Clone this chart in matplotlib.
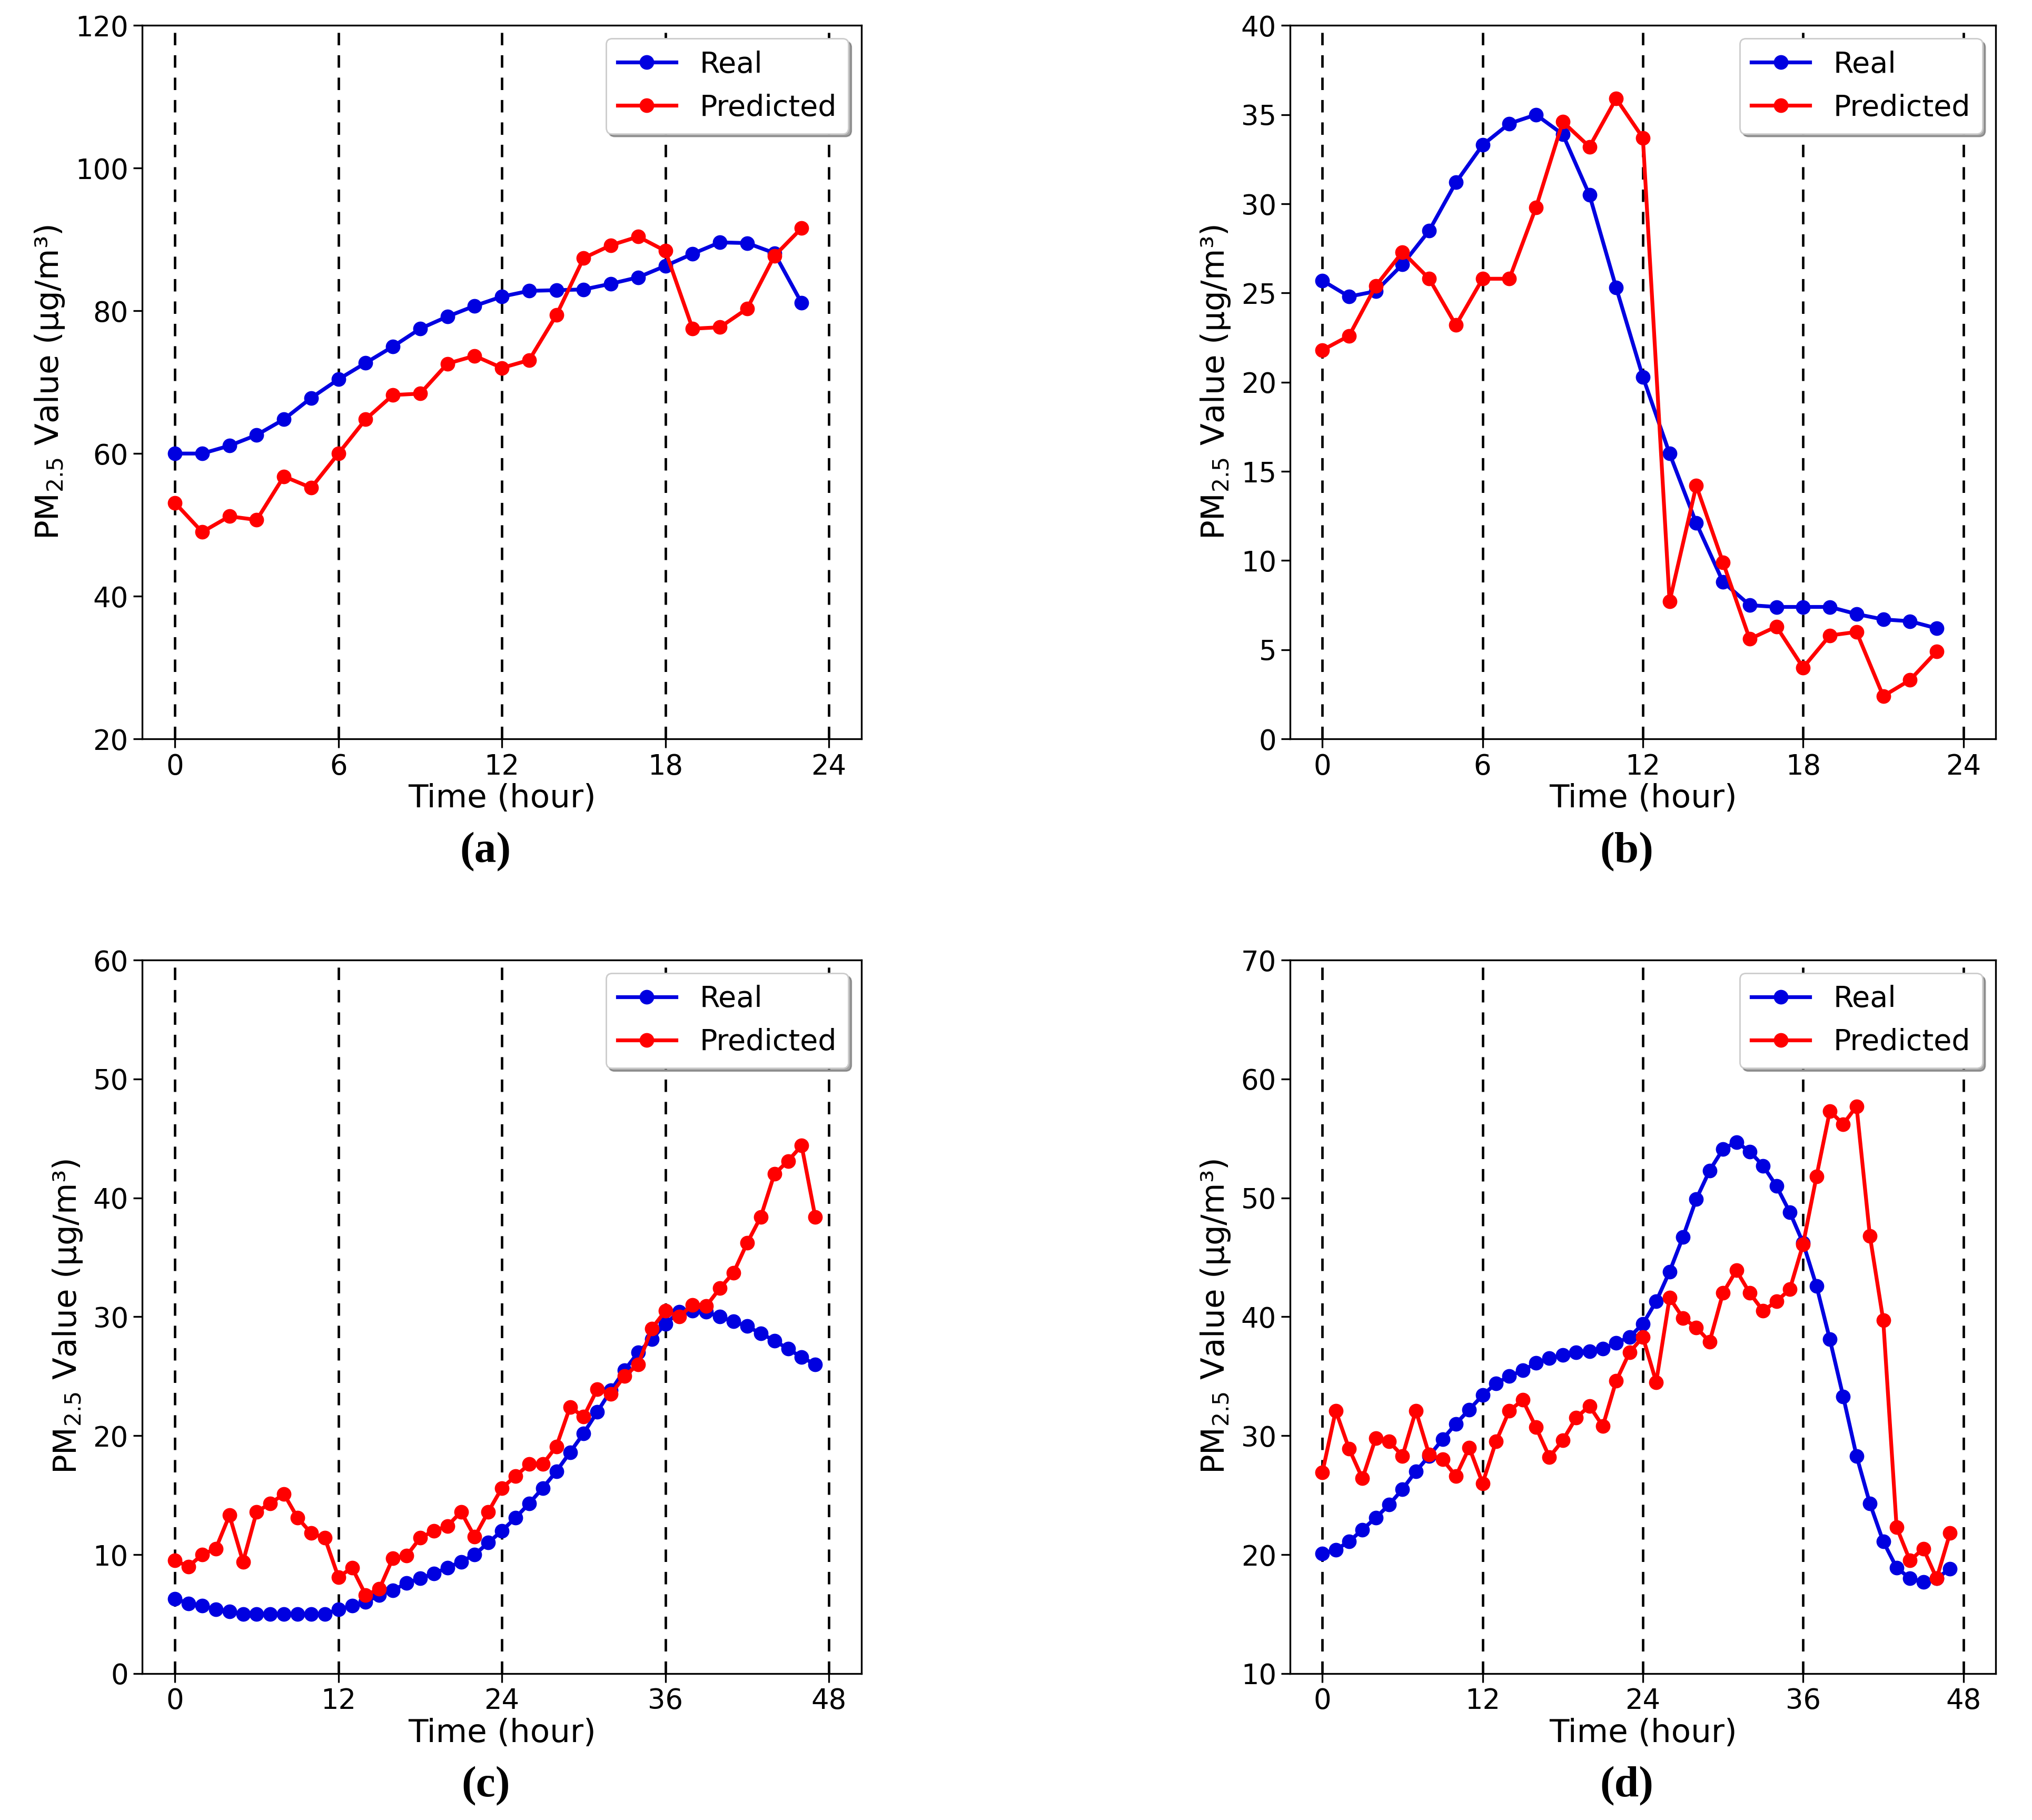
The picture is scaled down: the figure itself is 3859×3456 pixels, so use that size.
import matplotlib
matplotlib.use("Agg")
import matplotlib.pyplot as plt
import numpy as np

# panel (a): 24 hours
real_a = [60.0, 60.0, 61.1, 62.6, 64.8, 67.8, 70.4, 72.7, 75.0, 77.5, 79.2, 80.7,
          82.0, 82.8, 82.9, 83.0, 83.8, 84.7, 86.3, 88.0, 89.6, 89.5, 88.1, 81.1]
pred_a = [53.1, 49.0, 51.2, 50.7, 56.8, 55.2, 60.0, 64.8, 68.2, 68.4, 72.6, 73.7,
          72.0, 73.1, 79.4, 87.4, 89.2, 90.4, 88.4, 77.5, 77.7, 80.3, 87.7, 91.6]

# panel (b): 24 hours
real_b = [25.7, 24.8, 25.1, 26.6, 28.5, 31.2, 33.3, 34.5, 35.0, 33.9, 30.5, 25.3,
          20.3, 16.0, 12.1, 8.8, 7.5, 7.4, 7.4, 7.4, 7.0, 6.7, 6.6, 6.2]
pred_b = [21.8, 22.6, 25.4, 27.3, 25.8, 23.2, 25.8, 25.8, 29.8, 34.6, 33.2, 35.9,
          33.7, 7.7, 14.2, 9.9, 5.6, 6.3, 4.0, 5.8, 6.0, 2.4, 3.3, 4.9]

# panel (c): 48 hours
real_c = [6.3, 5.9, 5.7, 5.4, 5.2, 5.0, 5.0, 5.0, 5.0, 5.0, 5.0, 5.0,
          5.4, 5.7, 6.0, 6.6, 7.0, 7.6, 8.0, 8.4, 8.9, 9.4, 10.0, 11.0,
          12.0, 13.1, 14.3, 15.6, 17.0, 18.6, 20.2, 22.0, 23.8, 25.5, 27.0, 28.1,
          29.4, 30.4, 30.5, 30.4, 30.0, 29.6, 29.2, 28.6, 28.0, 27.3, 26.6, 26.0]
pred_c = [9.5, 9.0, 10.0, 10.5, 13.3, 9.4, 13.6, 14.3, 15.1, 13.1, 11.8, 11.4,
          8.1, 8.9, 6.6, 7.1, 9.7, 9.9, 11.4, 12.0, 12.4, 13.6, 11.5, 13.6,
          15.6, 16.6, 17.6, 17.6, 19.1, 22.4, 21.6, 23.9, 23.5, 25.0, 26.0, 29.0,
          30.5, 30.0, 31.0, 30.9, 32.4, 33.7, 36.2, 38.4, 42.0, 43.1, 44.4, 38.4]

# panel (d): 48 hours
real_d = [20.1, 20.4, 21.1, 22.1, 23.1, 24.2, 25.5, 27.0, 28.3, 29.7, 31.0, 32.2,
          33.4, 34.4, 35.0, 35.5, 36.1, 36.5, 36.8, 37.0, 37.1, 37.3, 37.8, 38.3,
          39.4, 41.3, 43.8, 46.7, 49.9, 52.3, 54.1, 54.7, 53.9, 52.7, 51.0, 48.8,
          46.2, 42.6, 38.1, 33.3, 28.3, 24.3, 21.1, 18.9, 18.0, 17.7, 18.0, 18.8]
pred_d = [26.9, 32.1, 28.9, 26.4, 29.8, 29.5, 28.3, 32.1, 28.4, 28.0, 26.6, 29.0,
          26.0, 29.5, 32.1, 33.0, 30.7, 28.2, 29.6, 31.5, 32.5, 30.8, 34.6, 37.0,
          38.3, 34.5, 41.6, 39.9, 39.1, 37.9, 42.0, 43.9, 42.0, 40.5, 41.3, 42.3,
          46.1, 51.8, 57.3, 56.2, 57.7, 46.8, 39.7, 22.3, 19.5, 20.5, 18.0, 21.8]

panels = [
    ("(a)", real_a, pred_a, 24, (20, 120), 20),
    ("(b)", real_b, pred_b, 24, (0, 40), 5),
    ("(c)", real_c, pred_c, 48, (0, 60), 10),
    ("(d)", real_d, pred_d, 48, (10, 70), 10),
]

# axes rectangles in figure fraction [left, bottom, width, height]
rects = [
    [0.070, 0.594, 0.354, 0.392],
    [0.635, 0.594, 0.347, 0.392],
    [0.070, 0.0805, 0.354, 0.392],
    [0.635, 0.0805, 0.347, 0.392],
]

fig = plt.figure(figsize=(19.295, 17.28), dpi=200)

for (tag, real, pred, span, ylim, ystep), rect in zip(panels, rects):
    ax = fig.add_axes(rect)
    x = np.arange(len(real))
    step = span // 4
    for v in range(0, span + 1, step):
        ax.axvline(v, color="k", linestyle="--", linewidth=1.7, dashes=(5, 4))
    ax.plot(x, real, "o-", color="#0000e0", linewidth=2.6, markersize=9, label="Real")
    ax.plot(x, pred, "o-", color="#ff0000", linewidth=2.6, markersize=9, label="Predicted")
    ax.set_xlim(-0.05 * span, 1.05 * span)
    ax.set_ylim(*ylim)
    ax.set_xticks(range(0, span + 1, step))
    ax.set_yticks(np.arange(ylim[0], ylim[1] + 0.1, ystep))
    ax.tick_params(labelsize=19, length=6, width=1.2)
    ax.set_xlabel("Time (hour)", fontsize=22, labelpad=2)
    ax.set_ylabel("PM$_{2.5}$ Value (μg/m³)", fontsize=22, labelpad=6)
    for s in ax.spines.values():
        s.set_linewidth(1.2)
    ax.legend(loc="upper right", fontsize=20, shadow=True, fancybox=True,
              framealpha=1.0, handlelength=2.0, borderpad=0.4,
              borderaxespad=0.45)
    cx = rect[0] + rect[2] / 2
    fig.text(cx - 0.008, rect[1] - 0.062, tag, ha="center", va="center",
             fontsize=30, fontweight="bold", family="Liberation Serif")

fig.savefig("out.png", dpi=200)
